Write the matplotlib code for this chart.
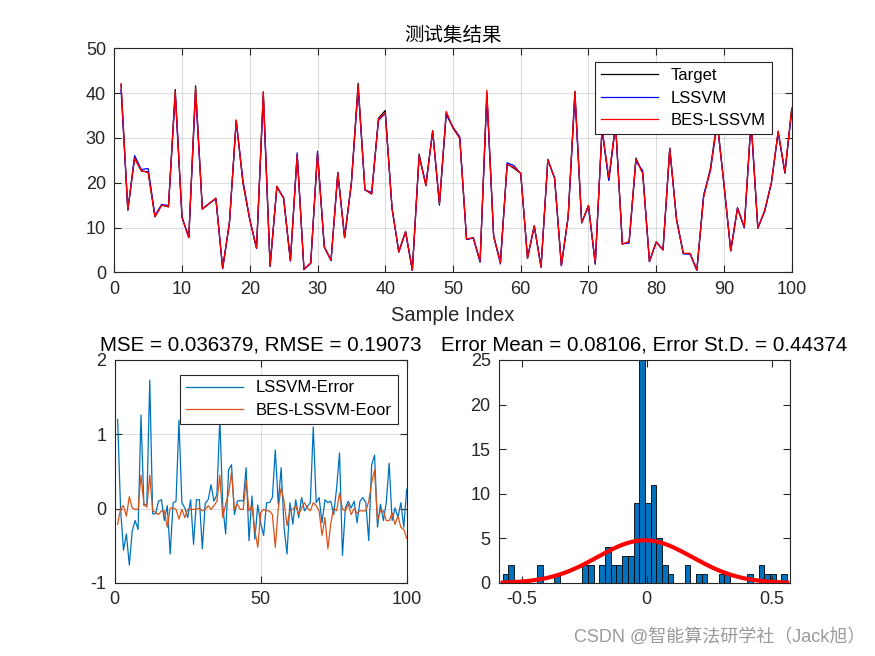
import numpy as np
import matplotlib
matplotlib.use("Agg")
import matplotlib.pyplot as plt

plt.rcParams['font.family'] = ['Liberation Sans', 'Noto Sans CJK SC', 'DejaVu Sans']
plt.rcParams['axes.unicode_minus'] = False

# sample index 1..100
idx = np.arange(1, 101)

# test set target values
target = [41.9, 13.9, 25.5, 22.6, 22.4, 12.4, 15.0, 14.6, 40.8, 12.3,
          7.8, 41.6, 14.1, 15.3, 16.5, 0.9, 11.0, 33.8, 19.9, 11.8,
          5.4, 40.2, 1.4, 19.1, 16.5, 2.6, 26.2, 0.7, 2.1, 26.5,
          5.7, 2.7, 22.3, 7.8, 20.0, 42.2, 18.4, 17.5, 34.4, 36.1,
          14.3, 4.6, 9.1, 0.5, 26.4, 19.3, 31.6, 15.0, 35.4, 32.2,
          29.9, 7.4, 7.7, 2.4, 40.1, 8.1, 2.4, 24.2, 23.2, 22.1,
          3.1, 10.4, 1.1, 25.2, 21.0, 1.5, 12.4, 40.4, 11.1, 14.9,
          1.8, 32.0, 20.6, 33.0, 6.3, 6.8, 25.5, 22.1, 2.4, 6.8,
          5.0, 27.7, 11.7, 4.2, 4.2, 0.5, 16.9, 23.2, 34.0, 19.5,
          4.8, 14.3, 10.0, 34.0, 9.8, 13.6, 19.9, 31.3, 22.1, 36.3]

# prediction errors (target - prediction)
err_lssvm = [1.20, 0.00, -0.56, -0.34, -0.76, -0.30, -0.16, -0.28, 1.26, 0.04,
             0.06, 1.73, -0.07, -0.07, 0.10, 0.12, -0.16, 0.04, -0.61, 0.08,
             0.10, 1.19, 0.08, 0.01, -0.12, 0.12, -0.48, 0.12, 0.12, -0.54,
             0.07, 0.12, 0.32, 0.10, 0.19, 1.21, 0.04, -0.34, 0.52, 0.59,
             -0.08, 0.10, 0.11, 0.10, 0.55, -0.43, 0.17, -0.41, 0.05, -0.20,
             -0.36, 0.08, 0.08, 0.15, 0.79, 0.06, 0.55, -0.25, -0.61, 0.08,
             -0.21, 0.12, -0.12, 0.15, -0.03, 0.03, 0.08, 1.10, 0.08, 0.15,
             -0.19, 0.12, 0.08, 0.10, -0.08, 0.28, 0.75, -0.63, 0.01, 0.10,
             0.01, 0.10, -0.19, 0.10, 0.15, 0.08, -0.43, 0.59, 0.72, -0.25,
             0.06, -0.16, 0.08, 0.61, -0.16, 0.01, -0.12, 0.08, -0.25, 0.26]

err_bes = [-0.21, 0.00, 0.04, -0.10, 0.16, 0.01, -0.01, -0.01, 0.45, 0.06,
           0.02, 0.45, -0.03, -0.05, -0.08, -0.03, -0.03, -0.25, 0.01, 0.01,
           -0.01, -0.14, -0.01, -0.12, -0.01, -0.01, -0.01, -0.01, 0.01, -0.03,
           -0.01, 0.04, -0.01, 0.04, 0.10, 0.45, -0.12, 0.06, 0.20, 0.49,
           -0.01, 0.06, -0.01, -0.01, 0.38, -0.03, 0.04, -0.30, -0.52, -0.05,
           -0.01, -0.03, -0.03, -0.08, -0.52, 0.00, 0.28, 0.10, -0.23, -0.03,
           -0.01, 0.04, -0.08, 0.01, 0.08, 0.01, -0.03, 0.08, 0.04, -0.03,
           -0.36, -0.12, -0.54, -0.20, 0.01, -0.03, 0.21, -0.01, -0.03, 0.06,
           -0.08, 0.00, -0.06, -0.03, -0.03, -0.03, 0.10, 0.35, 0.52, -0.16,
           -0.03, -0.03, -0.16, -0.16, -0.06, -0.21, -0.10, -0.25, -0.28, -0.40]

# histogram of errors: 50 bins
hist_counts = [1, 2, 0, 0, 0, 0, 2, 0, 0, 1,
               0, 0, 0, 0, 2, 2, 0, 2, 4, 2,
               2, 3, 3, 9, 25, 9, 11, 5, 2, 1,
               0, 0, 2, 0, 1, 1, 0, 0, 1, 1,
               0, 0, 0, 1, 0, 2, 1, 1, 0, 1]
bin_start = -0.575
bin_width = 0.0227
fit_mu = -0.008
fit_sigma = 0.189

target = np.array(target)
err_lssvm = np.array(err_lssvm)
err_bes = np.array(err_bes)
pred_lssvm = target - err_lssvm
pred_bes = target - err_bes

axcol = '#262626'

def matlab_axes(ax, grid=True):
    for s in ax.spines.values():
        s.set_color(axcol)
        s.set_linewidth(0.8)
    ax.tick_params(direction='in', top=True, right=True, colors=axcol,
                   labelsize=13, length=5, width=0.8, pad=6)
    if grid:
        ax.grid(True, color=axcol, alpha=0.15, linewidth=0.8)
        ax.set_axisbelow(True)

fig = plt.figure(figsize=(8.75, 6.56), dpi=100)

# ---- top: test set result
ax1 = fig.add_axes([0.1306, 0.5849, 0.7742, 0.3415])
ax1.plot(idx, target, color='black', lw=0.9, label='Target')
ax1.plot(idx, pred_lssvm, color='blue', lw=0.9, label='LSSVM')
ax1.plot(idx, pred_bes, color='red', lw=0.9, label='BES-LSSVM')
ax1.set_xlim(0, 100)
ax1.set_ylim(0, 50)
ax1.set_xticks(np.arange(0, 101, 10))
ax1.set_yticks(np.arange(0, 51, 10))
matlab_axes(ax1)
ax1.set_title('测试集结果', fontsize=14, color='black', pad=5)
ax1.set_xlabel('Sample Index', fontsize=14.5, color=axcol, labelpad=6)
leg = ax1.legend(loc='upper right', bbox_to_anchor=(0.983, 0.975), fontsize=12,
                 fancybox=False, edgecolor=axcol, framealpha=1,
                 handlelength=3.4, borderpad=0.35, labelspacing=0.45)
leg.get_frame().set_linewidth(0.8)

# ---- bottom left: errors
ax2 = fig.add_axes([0.1311, 0.1113, 0.3337, 0.34])
ax2.plot(idx, err_lssvm, color='#0072BD', lw=0.9, label='LSSVM-Error')
ax2.plot(idx, err_bes, color='#D95319', lw=0.9, label='BES-LSSVM-Eoor')
ax2.set_xlim(0, 100)
ax2.set_ylim(-1, 2)
ax2.set_xticks([0, 50, 100])
ax2.set_yticks([-1, 0, 1, 2])
matlab_axes(ax2)
ax2.set_title('MSE = 0.036379, RMSE = 0.19073', fontsize=14.8, color='black', pad=7)
leg2 = ax2.legend(loc='upper right', bbox_to_anchor=(0.998, 0.972), fontsize=12,
                  fancybox=False, edgecolor=axcol, framealpha=1,
                  handlelength=3.4, borderpad=0.35, labelspacing=0.45)
leg2.get_frame().set_linewidth(0.8)

# ---- bottom right: error histogram with normal fit
ax3 = fig.add_axes([0.5703, 0.1113, 0.3326, 0.34])
edges = bin_start + bin_width * np.arange(len(hist_counts) + 1)
ax3.bar(edges[:-1], hist_counts, width=bin_width, align='edge',
        color='#0072BD', edgecolor='black', linewidth=0.6)
xs = np.linspace(edges[0], edges[-1], 200)
pdf = np.exp(-0.5 * ((xs - fit_mu) / fit_sigma) ** 2) / (fit_sigma * np.sqrt(2 * np.pi))
ax3.plot(xs, sum(hist_counts) * bin_width * pdf, color='red', lw=3)
ax3.set_xlim(-0.59, 0.572)
ax3.set_ylim(0, 25)
ax3.set_xticks([-0.5, 0, 0.5])
ax3.set_xticklabels(['-0.5', '0', '0.5'])
ax3.set_yticks(np.arange(0, 26, 5))
matlab_axes(ax3, grid=False)
ax3.set_title('Error Mean = 0.08106, Error St.D. = 0.44374', fontsize=14.8,
              color='black', pad=7)

fig.text(0.989, 0.016, 'CSDN @智能算法研学社（Jack旭）', ha='right', va='bottom',
         fontsize=13, color='#9a9a9a')

fig.savefig('out.png', dpi=100)
